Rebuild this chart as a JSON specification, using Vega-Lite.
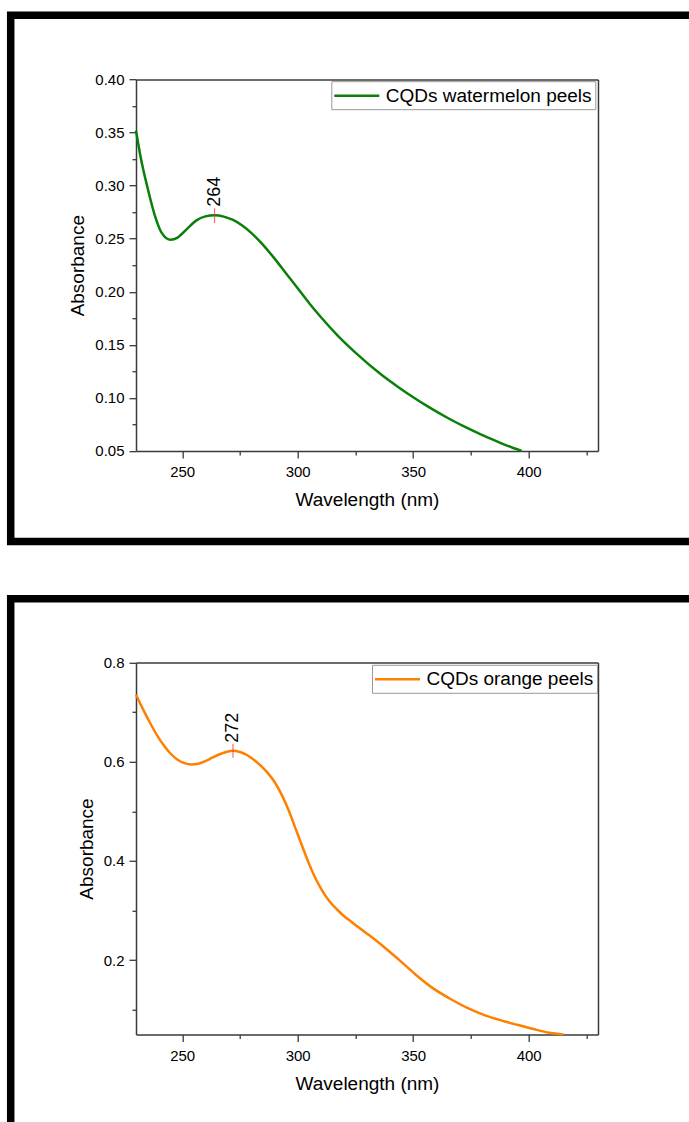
{
  "$schema": "https://vega.github.io/schema/vega-lite/v6.json",
  "autosize": {"type": "pad"},
  "padding": {"left": 6.7, "top": 11.2, "right": -26, "bottom": -20},
  "background": "white",
  "spacing": 56.6,
  "bounds": "flush",
  "config": {
    "font": "Liberation Sans",
    "view": {"stroke": "black", "strokeWidth": 7.5},
    "axis": {
      "grid": false,
      "domainColor": "#3a3a3a",
      "domainWidth": 1.5,
      "tickColor": "#3a3a3a",
      "tickWidth": 1.3,
      "labelFont": "Liberation Sans",
      "labelFontSize": 15,
      "labelColor": "black",
      "titleFont": "Liberation Sans",
      "titleFontSize": 19,
      "titleFontWeight": "normal",
      "titleColor": "black"
    },
    "legend": {
      "labelFont": "Liberation Sans",
      "labelFontSize": 19,
      "labelColor": "black",
      "labelLimit": 0,
      "strokeColor": "#999999",
      "padding": 3,
      "symbolType": "M-2.25,0L2.25,0",
      "symbolSize": 400,
      "symbolStrokeWidth": 2.5,
      "symbolOffset": 11,
      "labelOffset": 17.5,
      "fillColor": "white"
    }
  },
  "datasets": {
    "watermelon": [
      {"wl": 230, "a": 0.352, "s": "CQDs watermelon peels"},
      {"wl": 232, "a": 0.327, "s": "CQDs watermelon peels"},
      {"wl": 235, "a": 0.298, "s": "CQDs watermelon peels"},
      {"wl": 238, "a": 0.273, "s": "CQDs watermelon peels"},
      {"wl": 241, "a": 0.256, "s": "CQDs watermelon peels"},
      {"wl": 245, "a": 0.249, "s": "CQDs watermelon peels"},
      {"wl": 248, "a": 0.251, "s": "CQDs watermelon peels"},
      {"wl": 252, "a": 0.259, "s": "CQDs watermelon peels"},
      {"wl": 256, "a": 0.267, "s": "CQDs watermelon peels"},
      {"wl": 260, "a": 0.271, "s": "CQDs watermelon peels"},
      {"wl": 264, "a": 0.272, "s": "CQDs watermelon peels"},
      {"wl": 268, "a": 0.2708, "s": "CQDs watermelon peels"},
      {"wl": 272, "a": 0.2676, "s": "CQDs watermelon peels"},
      {"wl": 276, "a": 0.2624, "s": "CQDs watermelon peels"},
      {"wl": 280, "a": 0.2552, "s": "CQDs watermelon peels"},
      {"wl": 285, "a": 0.2442, "s": "CQDs watermelon peels"},
      {"wl": 290, "a": 0.2312, "s": "CQDs watermelon peels"},
      {"wl": 295, "a": 0.2172, "s": "CQDs watermelon peels"},
      {"wl": 300, "a": 0.2032, "s": "CQDs watermelon peels"},
      {"wl": 305, "a": 0.1892, "s": "CQDs watermelon peels"},
      {"wl": 310, "a": 0.1762, "s": "CQDs watermelon peels"},
      {"wl": 317, "a": 0.1594, "s": "CQDs watermelon peels"},
      {"wl": 325, "a": 0.1426, "s": "CQDs watermelon peels"},
      {"wl": 336, "a": 0.1222, "s": "CQDs watermelon peels"},
      {"wl": 343, "a": 0.111, "s": "CQDs watermelon peels"},
      {"wl": 350, "a": 0.1006, "s": "CQDs watermelon peels"},
      {"wl": 357, "a": 0.091, "s": "CQDs watermelon peels"},
      {"wl": 365, "a": 0.081, "s": "CQDs watermelon peels"},
      {"wl": 372, "a": 0.073, "s": "CQDs watermelon peels"},
      {"wl": 379, "a": 0.0658, "s": "CQDs watermelon peels"},
      {"wl": 386, "a": 0.0592, "s": "CQDs watermelon peels"},
      {"wl": 393, "a": 0.053, "s": "CQDs watermelon peels"},
      {"wl": 397, "a": 0.050, "s": "CQDs watermelon peels"}
    ],
    "orange": [
      {"wl": 230, "a": 0.735, "s": "CQDs orange peels"},
      {"wl": 233, "a": 0.706, "s": "CQDs orange peels"},
      {"wl": 236, "a": 0.679, "s": "CQDs orange peels"},
      {"wl": 239, "a": 0.654, "s": "CQDs orange peels"},
      {"wl": 242, "a": 0.633, "s": "CQDs orange peels"},
      {"wl": 245, "a": 0.616, "s": "CQDs orange peels"},
      {"wl": 248, "a": 0.604, "s": "CQDs orange peels"},
      {"wl": 251, "a": 0.597, "s": "CQDs orange peels"},
      {"wl": 254, "a": 0.5945, "s": "CQDs orange peels"},
      {"wl": 257, "a": 0.596, "s": "CQDs orange peels"},
      {"wl": 260, "a": 0.601, "s": "CQDs orange peels"},
      {"wl": 263, "a": 0.608, "s": "CQDs orange peels"},
      {"wl": 266, "a": 0.6145, "s": "CQDs orange peels"},
      {"wl": 269, "a": 0.6195, "s": "CQDs orange peels"},
      {"wl": 272, "a": 0.622, "s": "CQDs orange peels"},
      {"wl": 275, "a": 0.6195, "s": "CQDs orange peels"},
      {"wl": 278, "a": 0.6135, "s": "CQDs orange peels"},
      {"wl": 281, "a": 0.604, "s": "CQDs orange peels"},
      {"wl": 284, "a": 0.592, "s": "CQDs orange peels"},
      {"wl": 287, "a": 0.5775, "s": "CQDs orange peels"},
      {"wl": 290, "a": 0.559, "s": "CQDs orange peels"},
      {"wl": 293, "a": 0.534, "s": "CQDs orange peels"},
      {"wl": 296, "a": 0.503, "s": "CQDs orange peels"},
      {"wl": 299, "a": 0.466, "s": "CQDs orange peels"},
      {"wl": 302, "a": 0.429, "s": "CQDs orange peels"},
      {"wl": 305, "a": 0.393, "s": "CQDs orange peels"},
      {"wl": 308, "a": 0.362, "s": "CQDs orange peels"},
      {"wl": 311, "a": 0.337, "s": "CQDs orange peels"},
      {"wl": 314, "a": 0.317, "s": "CQDs orange peels"},
      {"wl": 317, "a": 0.302, "s": "CQDs orange peels"},
      {"wl": 320, "a": 0.289, "s": "CQDs orange peels"},
      {"wl": 324, "a": 0.2745, "s": "CQDs orange peels"},
      {"wl": 331, "a": 0.250, "s": "CQDs orange peels"},
      {"wl": 338, "a": 0.224, "s": "CQDs orange peels"},
      {"wl": 344, "a": 0.200, "s": "CQDs orange peels"},
      {"wl": 351, "a": 0.171, "s": "CQDs orange peels"},
      {"wl": 358, "a": 0.145, "s": "CQDs orange peels"},
      {"wl": 366, "a": 0.122, "s": "CQDs orange peels"},
      {"wl": 373, "a": 0.1045, "s": "CQDs orange peels"},
      {"wl": 380, "a": 0.0905, "s": "CQDs orange peels"},
      {"wl": 388, "a": 0.0785, "s": "CQDs orange peels"},
      {"wl": 395, "a": 0.0695, "s": "CQDs orange peels"},
      {"wl": 402, "a": 0.061, "s": "CQDs orange peels"},
      {"wl": 409, "a": 0.0535, "s": "CQDs orange peels"},
      {"wl": 415, "a": 0.050, "s": "CQDs orange peels"}
    ],
    "peak1": [{"wl": 264, "a": 0.2717, "label": "264"}],
    "peak2": [{"wl": 272, "a": 0.622, "label": "272"}]
  },
  "resolve": {
    "scale": {"x": "independent", "y": "independent", "color": "independent"},
    "axis": {"x": "independent", "y": "independent"},
    "legend": {"color": "independent"}
  },
  "vconcat": [
    {
      "width": 700,
      "height": 526.4,
      "resolve": {"axis": {"x": "independent", "y": "independent"}},
      "layer": [
        {
          "data": {"name": "watermelon"},
          "mark": {"type": "line", "strokeWidth": 2.5, "interpolate": "monotone"},
          "encoding": {
            "x": {
              "field": "wl", "type": "quantitative",
              "scale": {"domain": [230, 430], "range": [125.3, 587.3], "nice": false, "zero": false},
              "axis": {
                "orient": "bottom", "offset": -90.7,
                "title": "Wavelength (nm)",
                "values": [250, 275, 300, 325, 350, 375, 400, 425],
                "labelExpr": "datum.value % 50 === 0 ? datum.label : ''",
                "tickSize": {"condition": {"test": "datum.value % 50 !== 0", "value": 4}, "value": 7},
                "labelPadding": 7, "titlePadding": 11
              }
            },
            "y": {
              "field": "a", "type": "quantitative",
              "scale": {"domain": [0.05, 0.40], "range": [435.7, 64.3], "nice": false, "zero": false},
              "axis": {
                "orient": "left", "offset": -125.3,
                "title": "Absorbance",
                "values": [0.05, 0.075, 0.1, 0.125, 0.15, 0.175, 0.2, 0.225, 0.25, 0.275, 0.3, 0.325, 0.35, 0.375, 0.4],
                "labelExpr": "round(datum.value * 1000) % 50 === 0 ? format(datum.value, '.2f') : ''",
                "tickSize": {"condition": {"test": "round(datum.value * 1000) % 50 !== 0", "value": 4}, "value": 7},
                "labelPadding": 5, "titlePadding": 7
              }
            },
            "color": {
              "field": "s", "type": "nominal",
              "scale": {"domain": ["CQDs watermelon peels"], "range": ["#0a800a"]},
              "legend": {"title": null, "orient": "none", "legendX": 320.6, "legendY": 66}
            }
          }
        },
        {
          "data": {"name": "peak1"},
          "mark": {"type": "tick", "orient": "vertical", "color": "#ff2a2a", "thickness": 1.2, "size": 15},
          "encoding": {
            "x": {
              "field": "wl", "type": "quantitative",
              "scale": {"domain": [230, 430], "range": [125.3, 587.3], "nice": false, "zero": false},
              "axis": {"orient": "top", "offset": -64.3, "ticks": false, "labels": false, "title": null}
            },
            "y": {
              "field": "a", "type": "quantitative",
              "scale": {"domain": [0.05, 0.40], "range": [435.7, 64.3], "nice": false, "zero": false},
              "axis": {"orient": "right", "offset": -112.7, "ticks": false, "labels": false, "title": null}
            }
          }
        },
        {
          "data": {"name": "peak1"},
          "mark": {"type": "text", "angle": 270, "align": "left", "baseline": "middle", "dx": 9, "fontSize": 18, "font": "Liberation Sans", "color": "black"},
          "encoding": {
            "x": {"field": "wl", "type": "quantitative", "axis": null,
              "scale": {"domain": [230, 430], "range": [125.3, 587.3], "nice": false, "zero": false}},
            "y": {"field": "a", "type": "quantitative", "axis": null,
              "scale": {"domain": [0.05, 0.40], "range": [435.7, 64.3], "nice": false, "zero": false}},
            "text": {"field": "label"}
          }
        }
      ]
    },
    {
      "width": 700,
      "height": 540,
      "resolve": {"axis": {"x": "independent", "y": "independent"}},
      "layer": [
        {
          "data": {"name": "orange"},
          "mark": {"type": "line", "strokeWidth": 2.5, "interpolate": "monotone"},
          "encoding": {
            "x": {
              "field": "wl", "type": "quantitative",
              "scale": {"domain": [230, 430], "range": [125.3, 587.3], "nice": false, "zero": false},
              "axis": {
                "orient": "bottom", "offset": -104.3,
                "title": "Wavelength (nm)",
                "values": [250, 275, 300, 325, 350, 375, 400, 425],
                "labelExpr": "datum.value % 50 === 0 ? datum.label : ''",
                "tickSize": {"condition": {"test": "datum.value % 50 !== 0", "value": 4}, "value": 7},
                "labelPadding": 7, "titlePadding": 11
              }
            },
            "y": {
              "field": "a", "type": "quantitative",
              "scale": {"domain": [0.05, 0.8], "range": [435.7, 63.7], "nice": false, "zero": false},
              "axis": {
                "orient": "left", "offset": -125.3,
                "title": "Absorbance",
                "values": [0.1, 0.2, 0.3, 0.4, 0.5, 0.6, 0.7, 0.8],
                "labelExpr": "round(datum.value * 10) % 2 === 0 ? format(datum.value, '.1f') : ''",
                "tickSize": {"condition": {"test": "round(datum.value * 10) % 2 !== 0", "value": 4}, "value": 7},
                "labelPadding": 5, "titlePadding": 7
              }
            },
            "color": {
              "field": "s", "type": "nominal",
              "scale": {"domain": ["CQDs orange peels"], "range": ["#ff8000"]},
              "legend": {"title": null, "orient": "none", "legendX": 361.3, "legendY": 66}
            }
          }
        },
        {
          "data": {"name": "peak2"},
          "mark": {"type": "tick", "orient": "vertical", "color": "#ff2a2a", "thickness": 1.2, "size": 14},
          "encoding": {
            "x": {
              "field": "wl", "type": "quantitative",
              "scale": {"domain": [230, 430], "range": [125.3, 587.3], "nice": false, "zero": false},
              "axis": {"orient": "top", "offset": -63.7, "ticks": false, "labels": false, "title": null}
            },
            "y": {
              "field": "a", "type": "quantitative",
              "scale": {"domain": [0.05, 0.8], "range": [435.7, 63.7], "nice": false, "zero": false},
              "axis": {"orient": "right", "offset": -112.7, "ticks": false, "labels": false, "title": null}
            }
          }
        },
        {
          "data": {"name": "peak2"},
          "mark": {"type": "text", "angle": 270, "align": "left", "baseline": "middle", "dx": 8, "fontSize": 18, "font": "Liberation Sans", "color": "black"},
          "encoding": {
            "x": {"field": "wl", "type": "quantitative", "axis": null,
              "scale": {"domain": [230, 430], "range": [125.3, 587.3], "nice": false, "zero": false}},
            "y": {"field": "a", "type": "quantitative", "axis": null,
              "scale": {"domain": [0.05, 0.8], "range": [435.7, 63.7], "nice": false, "zero": false}},
            "text": {"field": "label"}
          }
        }
      ]
    }
  ]
}
